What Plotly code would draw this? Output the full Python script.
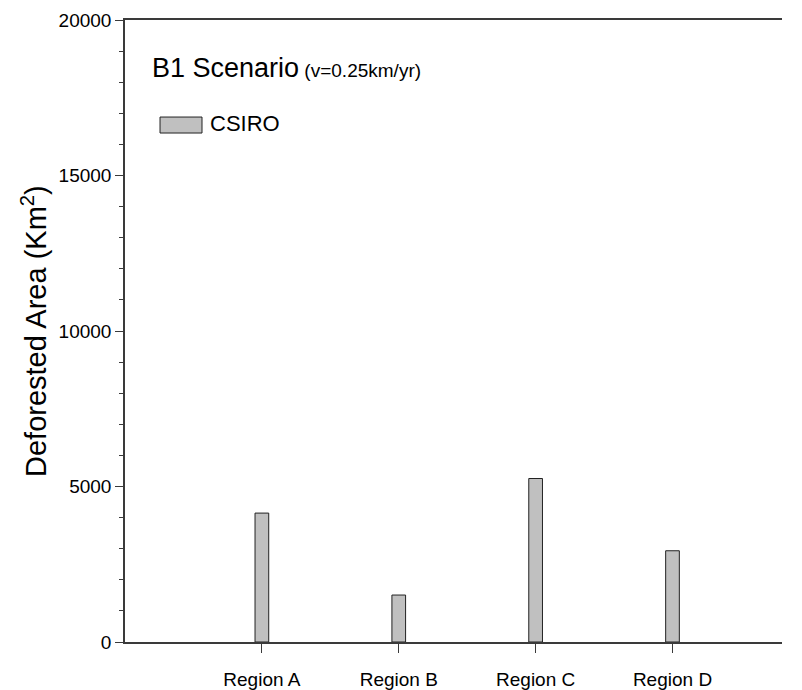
import plotly.graph_objects as go

# Deforested area per region, CSIRO model, B1 scenario
regions = ["Region A", "Region B", "Region C", "Region D"]
csiro_area = [4145, 1510, 5257, 2934]
y_ticks = [0, 5000, 10000, 15000, 20000]
y_tick_labels = ["0", "5000", "10000", "15000", "20000"]

FONT = "Arial, Liberation Sans, sans-serif"
AXIS_COLOR = "#3a3a3a"
BAR_FILL = "#c0c0c0"

fig = go.Figure()
fig.add_trace(go.Bar(
    x=regions,
    y=csiro_area,
    name="CSIRO",
    width=0.1,
    marker=dict(color=BAR_FILL, line=dict(color="#222222", width=1)),
    showlegend=False,
))

fig.update_layout(
    width=802,
    height=690,
    margin=dict(l=125, r=20, t=20, b=48),
    paper_bgcolor="white",
    plot_bgcolor="white",
    font=dict(family=FONT, color="black"),
    xaxis=dict(
        range=[-1.0, 3.8],
        showline=True,
        linecolor=AXIS_COLOR,
        linewidth=1.5,
        mirror=True,
        ticks="outside",
        ticklen=9,
        tickcolor=AXIS_COLOR,
        tickfont=dict(size=19, family=FONT),
        ticklabelstandoff=10,
        showgrid=False,
        zeroline=False,
        automargin=False,
    ),
    yaxis=dict(
        range=[0, 20000],
        tickvals=y_ticks,
        ticktext=y_tick_labels,
        showline=True,
        linecolor=AXIS_COLOR,
        linewidth=1.5,
        ticks="outside",
        ticklen=8,
        tickcolor=AXIS_COLOR,
        tickfont=dict(size=19, family=FONT),
        minor=dict(dtick=1000, ticks="outside", ticklen=4, tickcolor=AXIS_COLOR),
        showgrid=False,
        zeroline=False,
        automargin=False,
    ),
)

# Axis title
fig.add_annotation(
    text="Deforested Area (Km<sup>2</sup>)",
    textangle=-90,
    xref="paper", yref="paper",
    x=0, y=0.5,
    xanchor="center", yanchor="middle",
    xshift=-91,
    showarrow=False,
    font=dict(size=29, family=FONT),
)

# Panel title
fig.add_annotation(
    text="B1 Scenario<span style='font-size:19px'> (v=0.25km/yr)</span>",
    xref="paper", yref="paper",
    x=0.038, y=0.923,
    xanchor="left", yanchor="middle",
    showarrow=False,
    font=dict(size=27, family=FONT),
)

# Legend key
fig.add_shape(
    type="rect",
    xref="paper", yref="paper",
    x0=0.0533, x1=0.1172, y0=0.8183, y1=0.844,
    fillcolor=BAR_FILL,
    line=dict(color="#222222", width=1),
)
fig.add_annotation(
    text="CSIRO",
    xref="paper", yref="paper",
    x=0.126, y=0.833,
    xanchor="left", yanchor="middle",
    showarrow=False,
    font=dict(size=22, family=FONT),
)

fig.write_html("out.html")
